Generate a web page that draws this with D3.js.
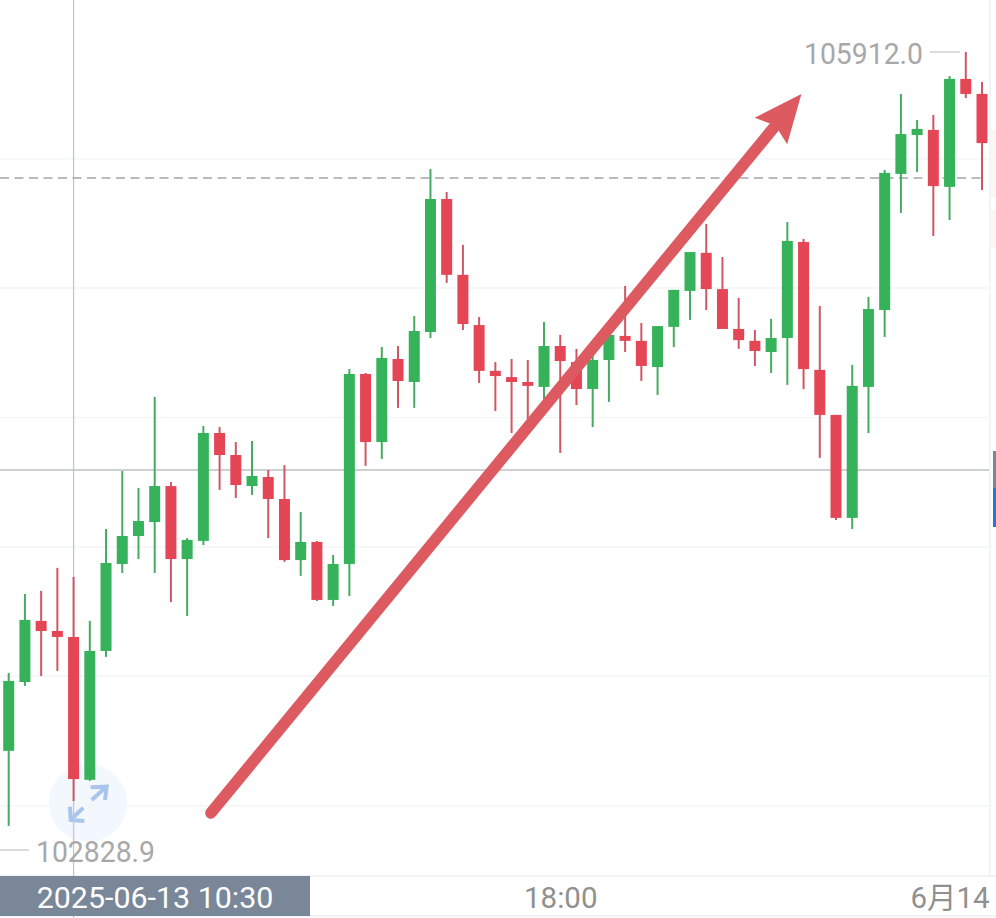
<!DOCTYPE html>
<html>
<head>
<meta charset="utf-8">
<script src="https://cdn.jsdelivr.net/npm/d3@7"></script>
<style>
  html, body { margin: 0; padding: 0; background: #fff; overflow: hidden; }
  svg { display: block; }
  text { font-family: Roboto, "Noto Sans CJK SC", sans-serif; }
</style>
</head>
<body>
<div id="chart"></div>
<script>
// 15 minute candles, first one at 09:30
var START = new Date(2025, 5, 13, 9, 30);
var opens  = [103212,103478,103714,103675,103652,103100,103598,103934,104042,104096,104235,103953,104023,104440,104355,104235,104270,104185,103949,104019,103795,103934,104668,104405,104726,104637,104830,105344,105051,104857,104680,104656,104637,104618,104776,104714,104610,104722,104815,104796,104695,104850,104989,105136,104996,104842,104796,104753,104807,105178,104684,104510,104112,104618,104915,105441,105591,105611,105391,105808,105750];
var highs  = [103513,103818,103830,103919,103884,103714,104069,104293,104228,104579,104251,104034,104467,104463,104405,104409,104297,104316,104135,104023,103969,104687,104672,104772,104776,104892,105460,105371,105167,104888,104714,104726,104722,104869,104819,104765,104761,104853,105008,104865,104853,104993,105139,105248,105120,104962,104838,104881,105255,105190,104931,104510,104703,104966,105456,105750,105649,105669,105819,105912,105796];
var lows   = [102922,103463,103501,103521,103018,103096,103575,103899,103953,103899,103787,103733,104007,104220,104189,104201,104034,103942,103888,103791,103772,103810,104313,104340,104537,104537,104807,105020,104838,104633,104525,104440,104452,104571,104363,104548,104463,104560,104753,104641,104587,104772,104877,104915,104842,104765,104699,104672,104626,104610,104344,104104,104069,104440,104811,105290,105448,105201,105263,105734,105379];
var closes = [103482,103718,103675,103652,103103,103598,103938,104042,104100,104235,103953,104027,104440,104355,104239,104274,104185,103949,104019,103795,103934,104668,104405,104730,104641,104834,105344,105051,104861,104680,104660,104637,104622,104776,104718,104610,104722,104819,104796,104699,104853,104993,105139,104996,104842,104799,104757,104807,105182,104687,104510,104112,104622,104919,105445,105595,105615,105394,105808,105750,105560];

var gridPrices = [105500,105000,104500,104000,103500,103000];
var lastPrice = 105425;
var crossPrice = 104297;
var crossTime = new Date(2025, 5, 13, 10, 30);
var crossLabel = '2025-06-13 10:30';
var maxLabel = '105912.0';
var minLabel = '102828.9';
var tickTimes = [new Date(2025, 5, 13, 18, 0), new Date(2025, 5, 14, 0, 0)];
var tickLabels = ['18:00', '6月14'];
// drawn-on arrow, [time, price]
var arrowFrom = [new Date(2025, 5, 13, 12, 37), 102972];
var arrowTo = [new Date(2025, 5, 13, 21, 43), 105750];

var UP = '#36b35a', DOWN = '#e54656';
var width = 996, height = 918;
var AXIS_TOP = 876;

var times = opens.map(function(d, i) { return d3.timeMinute.offset(START, i * 15); });

var x = d3.scaleTime()
  .domain([times[0], times[times.length - 1]])
  .range([8.7, 982]);

var y = d3.scaleLinear()
  .domain([102828.9, 105912])
  .range([850, 52]);

var svg = d3.select('#chart').append('svg')
  .attr('width', width)
  .attr('height', height);

// right edge strip
svg.append('rect').attr('x', 989).attr('y', 0).attr('width', 2).attr('height', AXIS_TOP).attr('fill', '#f3f4f6');
svg.append('rect').attr('x', 991).attr('y', 130).attr('width', 5).attr('height', 67).attr('fill', '#fdf4f4');
svg.append('rect').attr('x', 991).attr('y', 210).attr('width', 5).attr('height', 38).attr('fill', '#fdf4f4');
svg.append('rect').attr('x', 993).attr('y', 451).attr('width', 3).attr('height', 37).attr('fill', '#7a8799');
svg.append('rect').attr('x', 993).attr('y', 488).attr('width', 3).attr('height', 39).attr('fill', '#1f78e0');

// zoom button
var btn = svg.append('g').attr('transform', 'translate(88,803)');
btn.append('circle').attr('r', 39).attr('fill', '#f3f7fe');

// grid
svg.append('g').selectAll('line')
  .data(gridPrices)
  .join('line')
  .attr('x1', 0)
  .attr('x2', 989)
  .attr('y1', function(d) { return y(d); })
  .attr('y2', function(d) { return y(d); })
  .attr('stroke', '#f3f5f7')
  .attr('stroke-width', 1.5);

// axis band
svg.append('rect').attr('x', 0).attr('y', AXIS_TOP - 1).attr('width', width).attr('height', 2).attr('fill', '#f2f3f5');
svg.append('rect').attr('x', 0).attr('y', 915).attr('width', width).attr('height', 2).attr('fill', '#f4f5f6');

// crosshair
svg.append('line')
  .attr('x1', x(crossTime)).attr('x2', x(crossTime))
  .attr('y1', 0).attr('y2', height)
  .attr('stroke', '#c4c6c9').attr('stroke-width', 1.3);
svg.append('line')
  .attr('x1', 0).attr('x2', 989)
  .attr('y1', y(crossPrice)).attr('y2', y(crossPrice))
  .attr('stroke', '#bfc1c4').attr('stroke-width', 1.4);

// last price
svg.append('line')
  .attr('x1', 0).attr('x2', 984)
  .attr('y1', y(lastPrice)).attr('y2', y(lastPrice))
  .attr('stroke', '#a2a4a7').attr('stroke-width', 1.6)
  .attr('stroke-dasharray', '9,5.5');

// candles
var candles = svg.append('g').selectAll('g')
  .data(times.map(function(t, i) {
    return { time: t, open: opens[i], high: highs[i], low: lows[i], close: closes[i] };
  }))
  .join('g');

candles.append('line')
  .attr('x1', function(d) { return x(d.time); })
  .attr('x2', function(d) { return x(d.time); })
  .attr('y1', function(d) { return y(d.high); })
  .attr('y2', function(d) { return y(d.low); })
  .attr('stroke-width', 2)
  .attr('stroke', function(d) { return d.close >= d.open ? '#45ab62' : '#cf5765'; });

candles.append('rect')
  .attr('x', function(d) { return x(d.time) - 5.5; })
  .attr('width', 11)
  .attr('y', function(d) { return y(Math.max(d.open, d.close)); })
  .attr('height', function(d) { return Math.max(1, Math.abs(y(d.open) - y(d.close))); })
  .attr('fill', function(d) { return d.close >= d.open ? UP : DOWN; });

// zoom button arrows go over the candles
var icon = btn.append('g')
  .attr('fill', 'none')
  .attr('stroke', '#a9c5ee')
  .attr('stroke-width', 4);
icon.append('path').attr('d', 'M3.7,-3 L17.5,-15.5 M2.7,-15.7 L18.7,-16.3 L17,-3');
icon.append('path').attr('d', 'M-4.7,4.7 L-16.5,16 M-18,3.7 L-17.3,17 L-3.7,18');

// price labels
function priceLabel(text, tx, ty, anchor) {
  svg.append('text')
    .attr('x', tx).attr('y', ty)
    .attr('text-anchor', anchor)
    .attr('font-size', 30)
    .attr('textLength', 119)
    .attr('lengthAdjust', 'spacingAndGlyphs')
    .attr('fill', '#a8a8a8')
    .text(text);
}
svg.append('line').attr('x1', 0).attr('x2', 29).attr('y1', y(102828.9)).attr('y2', y(102828.9)).attr('stroke', '#c8c8c8').attr('stroke-width', 1.3);
priceLabel(minLabel, 36, 862, 'start');
svg.append('line').attr('x1', 930).attr('x2', 960).attr('y1', y(105912)).attr('y2', y(105912)).attr('stroke', '#c8c8c8').attr('stroke-width', 1.3);
priceLabel(maxLabel, 804, 64, 'start');

// time axis
var xAxis = d3.axisBottom(x)
  .tickValues(tickTimes)
  .tickSize(0)
  .tickFormat(function(d, i) { return tickLabels[i]; });

var axisG = svg.append('g')
  .attr('transform', 'translate(0,' + AXIS_TOP + ')')
  .call(xAxis);
axisG.select('.domain').remove();
axisG.selectAll('text')
  .attr('y', 0)
  .attr('dy', 32)
  .attr('font-size', 29.5)
  .attr('fill', '#909090')
  .style('font-family', 'Roboto, "Noto Sans CJK SC", sans-serif');

// crosshair time label
svg.append('rect')
  .attr('x', 0).attr('y', AXIS_TOP).attr('width', 310).attr('height', 40)
  .attr('fill', '#7a8799');
svg.append('text')
  .attr('x', 155).attr('y', AXIS_TOP + 32)
  .attr('text-anchor', 'middle')
  .attr('font-size', 30.4)
  .attr('fill', '#fff')
  .text(crossLabel);

// red arrow
var ax0 = x(arrowFrom[0]), ay0 = y(arrowFrom[1]);
var ax1 = x(arrowTo[0]), ay1 = y(arrowTo[1]);
var ang = Math.atan2(ay1 - ay0, ax1 - ax0);
var headLen = 48, headHalf = 21;
var bx = ax1 - headLen * Math.cos(ang), by = ay1 - headLen * Math.sin(ang);
var nx = -Math.sin(ang), ny = Math.cos(ang);

svg.append('line')
  .attr('x1', ax0).attr('y1', ay0)
  .attr('x2', bx + 6 * Math.cos(ang)).attr('y2', by + 6 * Math.sin(ang))
  .attr('stroke', '#dc5a60')
  .attr('stroke-width', 11.5)
  .attr('stroke-linecap', 'round');

svg.append('path')
  .attr('d', d3.line()([
    [ax1, ay1],
    [bx + headHalf * nx, by + headHalf * ny],
    [bx + 7 * Math.cos(ang), by + 7 * Math.sin(ang)],
    [bx - headHalf * nx, by - headHalf * ny]
  ]) + 'Z')
  .attr('fill', '#dc5a60');
</script>
</body>
</html>
